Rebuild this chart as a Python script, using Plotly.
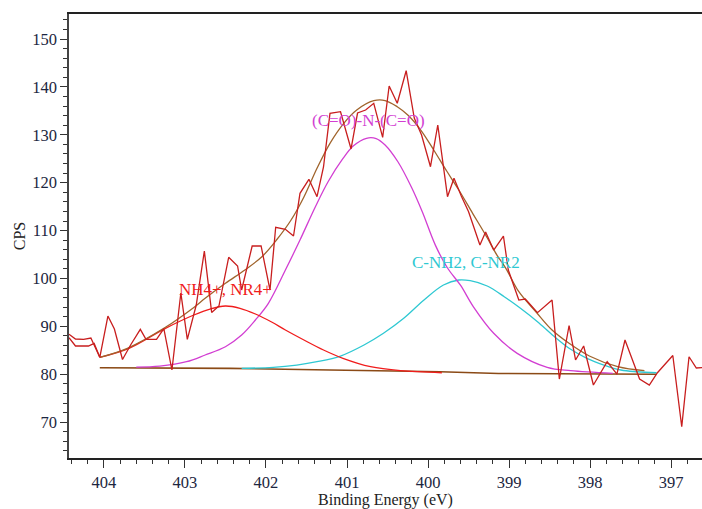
import plotly.graph_objects as go

# ---- data (Binding Energy eV, CPS) ----
raw_be = [404.43, 404.35, 404.25, 404.16, 404.05, 403.95, 403.87, 403.77, 403.67, 403.55,
          403.48, 403.35, 403.26, 403.16, 403.05, 402.97, 402.86, 402.76, 402.67, 402.58,
          402.46, 402.35, 402.30, 402.17, 402.06, 401.95, 401.88, 401.76, 401.66, 401.58,
          401.47, 401.37, 401.29, 401.21, 401.08, 400.95, 400.87, 400.77, 400.67, 400.56,
          400.48, 400.38, 400.27, 400.17, 400.08, 399.97, 399.88, 399.76, 399.68, 399.59,
          399.50, 399.36, 399.29, 399.19, 399.07, 399.01, 398.88, 398.80, 398.65, 398.47,
          398.38, 398.26, 398.18, 398.08, 397.96, 397.79, 397.67, 397.57, 397.39, 397.27,
          397.17, 396.98, 396.87, 396.78, 396.69, 396.61]
raw_cps = [88.35, 87.37, 87.31, 87.58, 83.55, 92.17, 89.46, 83.09, 86.12, 89.39,
           87.31, 87.31, 89.56, 80.90, 96.97, 87.31, 94.47, 105.74, 92.90, 94.26,
           104.43, 102.61, 97.60, 106.79, 106.79, 97.60, 110.69, 110.27, 108.87, 117.79,
           120.71, 117.08, 123.28, 134.49, 134.82, 127.04, 134.55, 135.18, 136.58, 129.48,
           140.19, 136.58, 143.38, 133.51, 129.96, 123.34, 132.05, 117.08, 120.92, 117.22,
           113.95, 106.99, 109.71, 105.95, 108.87, 101.77, 95.51, 95.72, 92.86, 95.51,
           79.02, 90.19, 82.99, 85.91, 77.77, 82.63, 80.06, 87.16, 79.02, 77.77,
           80.33, 83.92, 69.06, 83.67, 81.32, 81.42]

raw2_be = [404.43, 404.35, 404.19, 404.12, 404.05]
raw2_cps = [87.64, 85.91, 85.91, 86.47, 83.55]

bg_be = [404.05, 402.44, 401.21, 399.85, 399.13, 397.18]
bg_cps = [81.38, 81.25, 80.90, 80.54, 80.17, 80.02]

nh4_be = [404.05, 403.69, 403.24, 402.89, 402.69, 402.50, 402.32, 402.13, 401.93, 401.76,
          401.52, 401.29, 401.05, 400.71, 400.34, 399.83]
nh4_cps = [83.55, 85.43, 89.60, 92.38, 93.63, 94.26, 93.78, 92.59, 90.92, 89.25,
           87.06, 85.07, 83.34, 81.59, 80.75, 80.33]

imide_be = [403.60, 403.31, 402.98, 402.75, 402.50, 402.30, 402.13, 401.97, 401.76, 401.58,
            401.39, 401.23, 401.06, 400.92, 400.76, 400.64, 400.53, 400.37, 400.20, 400.07,
            399.91, 399.76, 399.60, 399.44, 399.19, 398.90, 398.53, 398.24, 397.72]
imide_cps = [81.52, 81.73, 82.63, 84.03, 85.76, 88.20, 91.34, 94.82, 101.77, 108.04,
             114.99, 120.30, 124.80, 127.70, 129.27, 129.21, 127.87, 124.32, 118.89, 113.88,
             106.97, 102.19, 98.60, 94.09, 88.56, 84.38, 81.46, 80.75, 80.21]

amine_be = [402.30, 401.91, 401.62, 401.37, 401.08, 400.79, 400.55, 400.30, 400.05, 399.81,
            399.62, 399.48, 399.27, 399.06, 398.86, 398.65, 398.45, 398.24, 398.04, 397.83,
            397.62, 397.42, 397.18]
amine_cps = [81.25, 81.46, 81.94, 82.63, 83.82, 86.12, 88.56, 91.69, 95.51, 98.64,
             99.69, 99.54, 98.43, 96.20, 93.78, 90.98, 88.00, 85.22, 83.34, 81.94,
             80.90, 80.54, 80.33]

env_be = [404.05, 403.71, 403.24, 402.89, 402.75, 402.50, 402.26, 402.05, 401.87, 401.69,
          401.53, 401.37, 401.21, 401.04, 400.88, 400.67, 400.53, 400.38, 400.25, 400.09,
          399.93, 399.77, 399.62, 399.45, 399.29, 399.15, 399.04, 398.88, 398.67, 398.47,
          398.26, 398.01, 397.66, 397.33]
env_cps = [83.55, 85.43, 89.81, 93.95, 95.87, 99.00, 101.77, 104.55, 108.04, 112.21,
           117.08, 123.01, 128.23, 132.40, 135.18, 137.12, 137.16, 135.87, 134.13, 131.00,
           126.83, 122.44, 118.48, 113.61, 109.08, 104.90, 102.13, 97.24, 93.07, 89.25,
           86.47, 83.82, 81.59, 80.75]

labels = ["NH4+, NR4+", "(C=O)-N-(C=O)", "C-NH2, C-NR2"]
label_be = [402.50, 400.73, 399.53]
label_cps = [97.7, 132.9, 103.3]
label_colors = ["#f01c1c", "#d23ed2", "#2ec8d2"]

SERIF = "Liberation Serif, Times New Roman, serif"

fig = go.Figure()
fig.add_trace(go.Scatter(x=bg_be, y=bg_cps, mode="lines",
                         line=dict(color="#8b4a16", width=1.6)))
fig.add_trace(go.Scatter(x=amine_be, y=amine_cps, mode="lines", line_shape="spline",
                         line=dict(color="#2ec8d2", width=1.3)))
fig.add_trace(go.Scatter(x=imide_be, y=imide_cps, mode="lines", line_shape="spline",
                         line=dict(color="#d23ed2", width=1.3)))
fig.add_trace(go.Scatter(x=nh4_be, y=nh4_cps, mode="lines", line_shape="spline",
                         line=dict(color="#f01c1c", width=1.3)))
fig.add_trace(go.Scatter(x=env_be, y=env_cps, mode="lines", line_shape="spline",
                         line=dict(color="#a0642c", width=1.3)))
fig.add_trace(go.Scatter(x=raw2_be, y=raw2_cps, mode="lines",
                         line=dict(color="#c81e1e", width=1.3)))
fig.add_trace(go.Scatter(x=raw_be, y=raw_cps, mode="lines",
                         line=dict(color="#c81e1e", width=1.3)))

for t, xb, yc, c in zip(labels, label_be, label_cps, label_colors):
    fig.add_annotation(x=xb, y=yc, text=t, showarrow=False,
                       font=dict(family=SERIF, size=17, color=c))

fig.update_layout(
    width=702, height=509,
    margin=dict(l=69, r=0, t=14, b=51),
    paper_bgcolor="white", plot_bgcolor="white",
    showlegend=False,
    font=dict(family=SERIF, size=16, color="#1c2640"),
)
fig.update_xaxes(
    range=[404.43, 396.62], tick0=0, dtick=1,
    ticks="outside", ticklen=8, tickwidth=1.2, tickcolor="#333",
    minor=dict(dtick=0.2, ticks="outside", ticklen=4, tickcolor="#333", tickwidth=1.2),
    showline=True, linecolor="#222", linewidth=1.6, mirror=True,
    showgrid=False, zeroline=False,
    tickfont=dict(family=SERIF, size=16.5, color="#1c2640"),
    title=dict(text="Binding Energy (eV)", standoff=6,
               font=dict(family=SERIF, size=16, color="#222")),
)
fig.update_yaxes(
    range=[62.53, 155.22], tick0=0, dtick=10,
    ticks="outside", ticklen=7, tickwidth=1.2, tickcolor="#333",
    minor=dict(dtick=2, ticks="outside", ticklen=4, tickcolor="#333", tickwidth=1.2),
    showline=True, linecolor="#444", linewidth=1.6,
    showgrid=False, zeroline=False,
    tickfont=dict(family=SERIF, size=16.5, color="#1c2640"),
    title=dict(text="CPS", standoff=3,
               font=dict(family=SERIF, size=16, color="#222")),
)

fig.write_html("out.html")
